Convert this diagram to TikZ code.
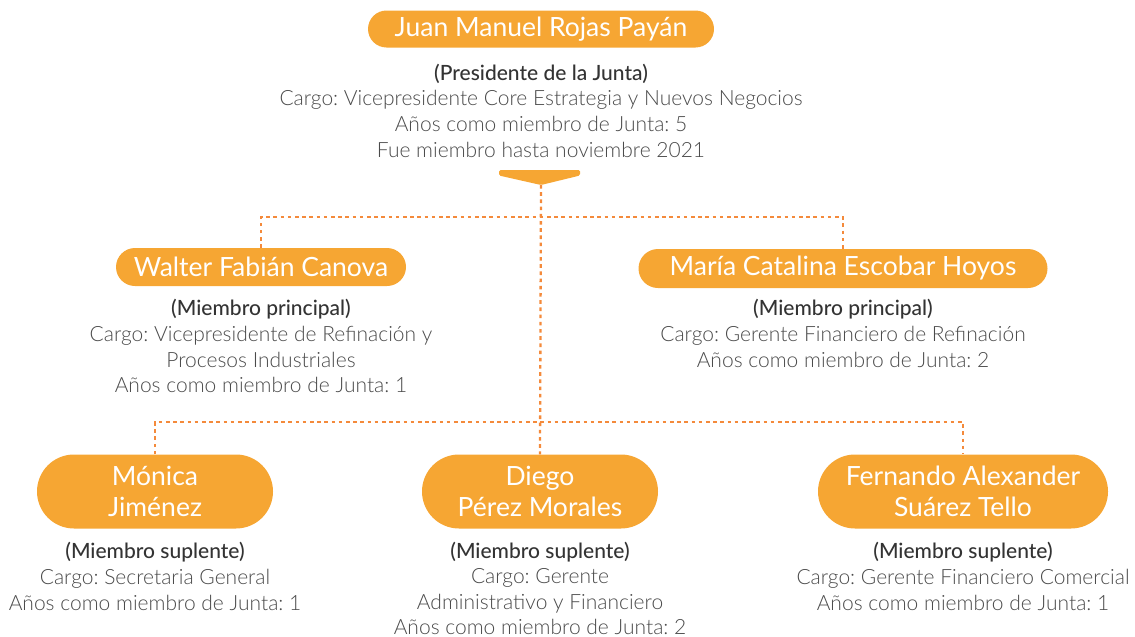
\documentclass[tikz,border=0pt]{standalone}
\usepackage{fontspec}
\setmainfont{Lato Light}[BoldFont={Lato Medium}]
\newfontfamily\namefont{Lato}
\usetikzlibrary{positioning}
\definecolor{boxorange}{HTML}{F6A633}
\definecolor{lineorange}{HTML}{F48A3B}
\definecolor{bodygray}{HTML}{4A4A4A}
\definecolor{headgray}{HTML}{333333}
\tikzset{
  namebox/.style={fill=boxorange, draw=none, text=white, align=center, inner sep=0pt,
    font=\namefont\fontsize{26.5}{31}\selectfont},
  infotext/.style={text=bodygray, align=center, inner sep=0pt, anchor=north,
    font=\frenchspacing\fontsize{21}{25.8}\selectfont},
  link/.style={draw=lineorange, line width=2.3pt, dash pattern=on 3.6pt off 3.6pt}
}
\newcommand{\hd}[1]{{\bfseries\color{headgray}#1}}
\begin{document}
\begin{tikzpicture}[x=1pt,y=-1pt]
\useasboundingbox (0,0) rectangle (1135,637);
% name boxes
\node[namebox, minimum width=346pt, minimum height=37pt, rounded corners=18.5pt] (juan) at (541,29) {Juan Manuel Rojas Payán};
\node[namebox, minimum width=290pt, minimum height=38pt, rounded corners=19pt] (walter) at (261,267) {Walter Fabián Canova};
\node[namebox, minimum width=409pt, minimum height=39pt, rounded corners=19.5pt] (maria) at (843,268.5) {María Catalina Escobar Hoyos};
\node[namebox, minimum width=236pt, minimum height=74pt, rounded corners=37pt] (monica) at (155,491.5) {Mónica\\Jiménez};
\node[namebox, minimum width=236pt, minimum height=74pt, rounded corners=37pt] (diego) at (540,491.5) {Diego\\Pérez Morales};
\node[namebox, minimum width=290pt, minimum height=74pt, rounded corners=37pt] (fernando) at (963,491.5) {Fernando Alexander\\Suárez Tello};
% info texts
\node[infotext] (juaninfo) at (541,63.5) {\hd{(Presidente de la Junta)}\\Cargo: Vicepresidente Core Estrategia y Nuevos Negocios\\Años como miembro de Junta: 5\\Fue miembro hasta noviembre 2021};
\node[infotext] (walterinfo) at (261,299) {\hd{(Miembro principal)}\\Cargo: Vicepresidente de Refinación y\\Procesos Industriales\\Años como miembro de Junta: 1};
\node[infotext] (mariainfo) at (843,299) {\hd{(Miembro principal)}\\Cargo: Gerente Financiero de Refinación\\Años como miembro de Junta: 2};
\node[infotext] (monicainfo) at (155,542) {\hd{(Miembro suplente)}\\Cargo: Secretaria General\\Años como miembro de Junta: 1};
\node[infotext, font=\frenchspacing\fontsize{21}{25.4}\selectfont] (diegoinfo) at (540,542) {\hd{(Miembro suplente)}\\Cargo: Gerente\\Administrativo y Financiero\\Años como miembro de Junta: 2};
\node[infotext] (fernandoinfo) at (963,542) {\hd{(Miembro suplente)}\\Cargo: Gerente Financiero Comercial\\Años como miembro de Junta: 1};
% pointer
\fill[boxorange, rounded corners=1.5pt] (499,170) -- (580,170) -- (580,175.5) -- (541,185) -- (499,175.5) -- cycle;
\coordinate (tip) at (541,185);
\coordinate (h1) at (541,217);
\coordinate (h2) at (541,422);
% connectors
\draw[link] (tip) -- (diego.north);
\draw[link] (walter.north) |- (h1) -| (maria.north);
\draw[link] (monica.north) |- (h2) -| (fernando.north);
\end{tikzpicture}
\end{document}
